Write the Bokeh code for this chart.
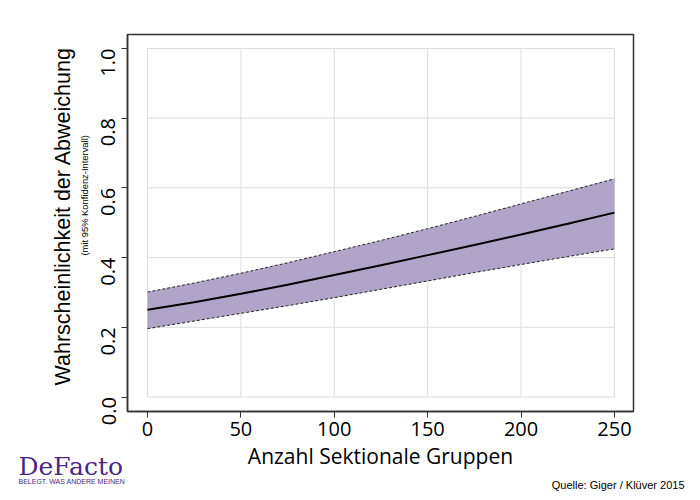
import math
from bokeh.plotting import figure
from bokeh.models import Range1d, FixedTicker, Label, Title, ColumnDataSource
from bokeh.embed import file_html
from bokeh.resources import INLINE

# data
groups = [0, 25, 50, 75, 100, 125, 150, 175, 200, 225, 250]
prob_mean = [0.250, 0.272, 0.296, 0.322, 0.350, 0.378, 0.407, 0.436, 0.466, 0.497, 0.529]
prob_upper = [0.301, 0.327, 0.355, 0.385, 0.417, 0.449, 0.483, 0.518, 0.554, 0.590, 0.626]
prob_lower = [0.196, 0.218, 0.240, 0.262, 0.285, 0.309, 0.333, 0.357, 0.380, 0.403, 0.425]
x_ticks = [0, 50, 100, 150, 200, 250]
y_ticks = [0.0, 0.2, 0.4, 0.6, 0.8, 1.0]
y_tick_labels = {0.0: "0.0", 0.2: "0.2", 0.4: "0.4", 0.6: "0.6", 0.8: "0.8", 1.0: "1.0"}

src = ColumnDataSource(dict(x=groups, m=prob_mean, u=prob_upper, l=prob_lower))

p = figure(width=700, height=500, output_backend="svg", toolbar_location=None,
           x_range=Range1d(-10.7, 260.2), y_range=Range1d(-0.0416, 1.040),
           min_border_left=127, min_border_right=67, min_border_top=34, min_border_bottom=89)
p.background_fill_color = "white"
p.border_fill_color = "white"
p.outline_line_color = "#333333"
p.outline_line_width = 1.5
p.xgrid.visible = False
p.ygrid.visible = False

# grid lines restricted to the data extent
p.segment(x0=x_ticks, y0=[y_ticks[0]] * len(x_ticks), x1=x_ticks, y1=[y_ticks[-1]] * len(x_ticks),
          line_color="#dcdcdc", line_width=1)
p.segment(x0=[x_ticks[0]] * len(y_ticks), y0=y_ticks, x1=[x_ticks[-1]] * len(y_ticks), y1=y_ticks,
          line_color="#dcdcdc", line_width=1)

p.varea(x="x", y1="l", y2="u", source=src, fill_color="#b0a5c8", fill_alpha=1.0)
p.line(x="x", y="u", source=src, line_color="#222222", line_width=1, line_dash="3 2")
p.line(x="x", y="l", source=src, line_color="#222222", line_width=1, line_dash="3 2")
p.line(x="x", y="m", source=src, line_color="black", line_width=2)

tick_font = "Open Sans"
for ax in (p.xaxis[0], p.yaxis[0]):
    ax.axis_line_color = "#333333"
    ax.axis_line_width = 1.5
    ax.major_tick_line_color = "#333333"
    ax.major_tick_out = 6
    ax.major_tick_in = 0
    ax.minor_tick_line_color = None
    ax.major_label_text_font = tick_font
    ax.major_label_text_font_size = "20px"
    ax.major_label_text_color = "black"

p.xaxis.ticker = FixedTicker(ticks=x_ticks)
p.yaxis.ticker = FixedTicker(ticks=y_ticks)
p.yaxis.major_label_overrides = y_tick_labels
p.yaxis.major_label_orientation = math.pi / 2
p.xaxis.major_label_standoff = 4
p.yaxis.major_label_standoff = 13

p.xaxis.axis_label = "Anzahl Sektionale Gruppen"
p.xaxis.axis_label_text_font = tick_font
p.xaxis.axis_label_text_font_size = "21px"
p.xaxis.axis_label_text_font_style = "normal"
p.xaxis.axis_label_text_color = "black"
p.xaxis.axis_label_standoff = 3

# y-axis subtitle and title as side titles
p.add_layout(Title(text="(mit 95% Konfidenz-Intervall)", align="left", offset=156,
                   text_font="Liberation Sans", text_font_size="9.4px",
                   text_font_style="normal", text_color="black", standoff=4), "left")
p.add_layout(Title(text="Wahrscheinlichkeit der Abweichung", align="left", offset=26,
                   text_font="Liberation Sans", text_font_size="21.5px",
                   text_font_style="normal", text_color="black", standoff=0), "left")

# branding and source, held in side panels (screen units relative to each panel)
p.add_layout(Label(x=-109, y=-432, x_units="screen", y_units="screen", text="DeFacto",
                   text_font="DejaVu Serif", text_font_size="25px",
                   text_color="#4a2783", text_baseline="alphabetic"), "above")
p.add_layout(Label(x=-109, y=-1.5, x_units="screen", y_units="screen", text="BELEGT. WAS ANDERE MEINEN",
                   text_font="Liberation Sans", text_font_size="7px",
                   text_color="#4a2783", text_baseline="alphabetic"), "below")
p.add_layout(Label(x=557, y=6.5, x_units="screen", y_units="screen", text="Quelle: Giger / Klüver 2015",
                   text_font="Liberation Sans", text_font_size="11px",
                   text_color="black", text_align="right", text_baseline="alphabetic"), "below")

open("out.html", "w").write(file_html(p, INLINE))
